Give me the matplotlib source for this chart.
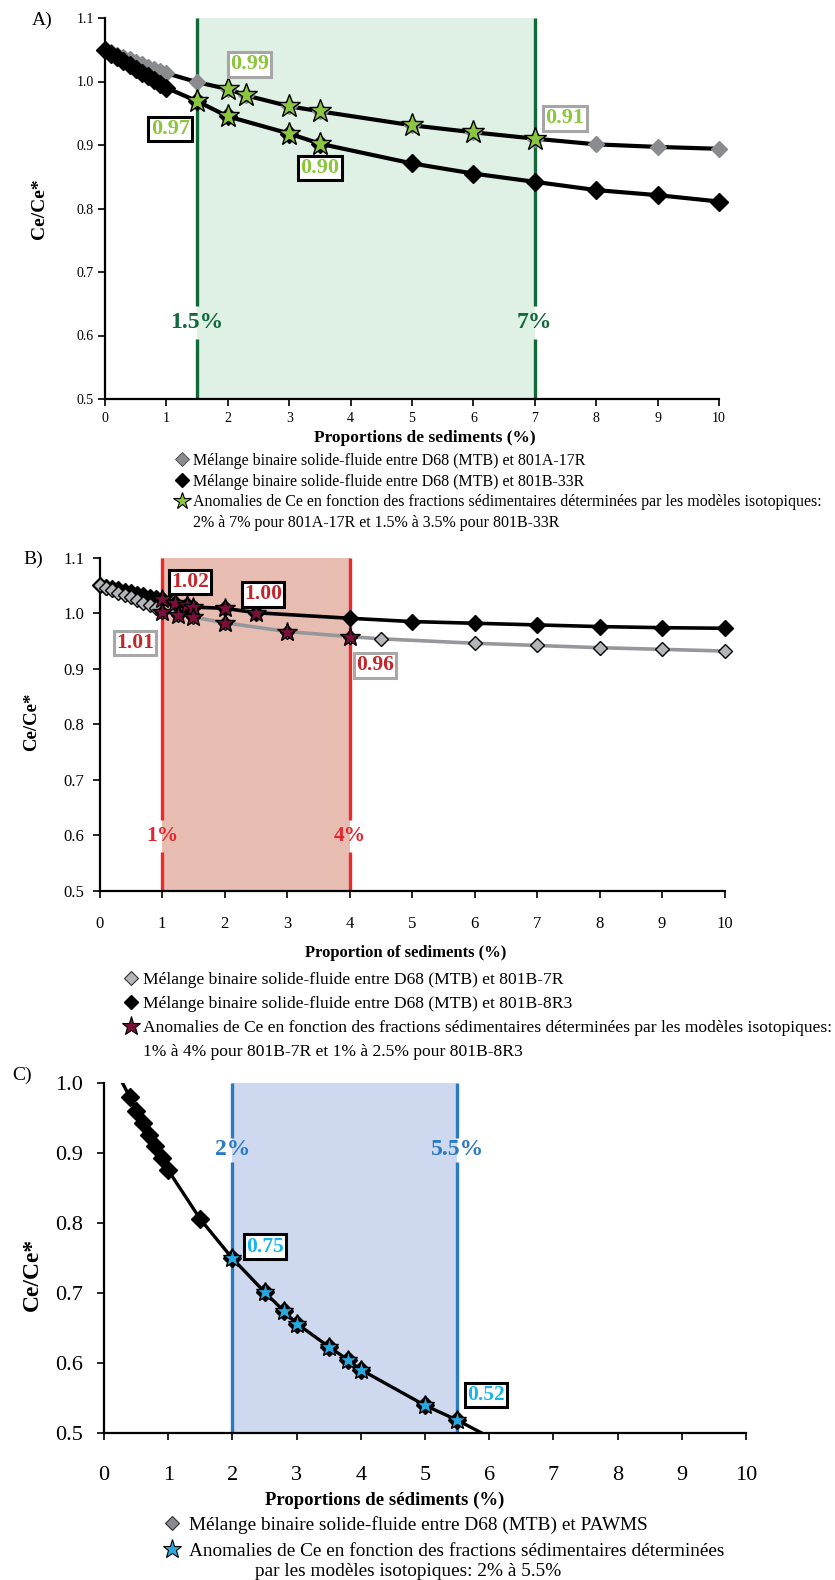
import matplotlib
matplotlib.use("Agg")
import matplotlib.pyplot as plt
from matplotlib.lines import Line2D

plt.rcParams['font.family'] = ['Liberation Serif', 'DejaVu Serif']

# -----------------------------
# DATA
# -----------------------------
# A) mixing D68 (MTB) with 801A-17R (gray) and 801B-33R (black)
a_x_gray = [0.0, 0.1, 0.2, 0.3, 0.4, 0.5, 0.6, 0.7, 0.8, 0.9, 1.0, 1.5, 2.0, 2.3,
            3.0, 3.5, 5.0, 6.0, 7.0, 8.0, 9.0, 10.0]
a_y_gray = [1.050, 1.046, 1.042, 1.038, 1.035, 1.031, 1.027, 1.023, 1.019, 1.016,
            1.013, 0.999, 0.988, 0.978, 0.961, 0.953, 0.931, 0.920, 0.910, 0.901,
            0.897, 0.894]
a_x_black = [0.0, 0.1, 0.2, 0.3, 0.4, 0.5, 0.6, 0.7, 0.8, 0.9, 1.0, 1.5, 2.0, 3.0,
             3.5, 5.0, 6.0, 7.0, 8.0, 9.0, 10.0]
a_y_black = [1.050, 1.044, 1.038, 1.032, 1.026, 1.020, 1.014, 1.008, 1.002, 0.996,
             0.990, 0.969, 0.945, 0.918, 0.902, 0.871, 0.855, 0.842, 0.829, 0.821,
             0.811]
a_x_star = [2.0, 2.3, 3.0, 3.5, 5.0, 6.0, 7.0, 1.5, 2.0, 3.0, 3.5]
a_y_star = [0.988, 0.978, 0.961, 0.953, 0.931, 0.920, 0.910, 0.969, 0.945, 0.918, 0.902]
a_zone = [1.5, 7.0]
a_zone_labels = ["1.5%", "7%"]
a_values = ["0.99", "0.97", "0.90", "0.91"]

# B) mixing D68 (MTB) with 801B-7R (gray) and 801B-8R3 (black)
b_x_gray = [0.0, 0.1, 0.2, 0.3, 0.4, 0.5, 0.6, 0.7, 0.8, 0.9, 1.0, 1.25, 1.5, 2.0,
            3.0, 4.0, 4.5, 6.0, 7.0, 8.0, 9.0, 10.0]
b_y_gray = [1.050, 1.046, 1.042, 1.037, 1.033, 1.029, 1.024, 1.019, 1.014, 1.009,
            1.003, 0.997, 0.993, 0.983, 0.967, 0.958, 0.954, 0.946, 0.942, 0.938,
            0.935, 0.932]
b_x_black = [0.0, 0.1, 0.2, 0.3, 0.4, 0.5, 0.6, 0.7, 0.8, 0.9, 1.0, 1.2, 1.4, 1.5,
             2.0, 2.5, 4.0, 5.0, 6.0, 7.0, 8.0, 9.0, 10.0]
b_y_black = [1.050, 1.048, 1.045, 1.043, 1.040, 1.038, 1.035, 1.032, 1.030, 1.027,
             1.025, 1.018, 1.015, 1.011, 1.009, 1.001, 0.991, 0.985, 0.982, 0.979,
             0.976, 0.974, 0.973]
b_x_star = [1.0, 1.2, 1.4, 1.5, 2.0, 2.5, 1.0, 1.25, 1.5, 2.0, 3.0, 4.0]
b_y_star = [1.025, 1.018, 1.015, 1.011, 1.009, 1.001, 1.003, 0.997, 0.993, 0.983,
            0.967, 0.958]
b_zone = [1.0, 4.0]
b_zone_labels = ["1%", "4%"]
b_values = ["1.02", "1.00", "1.01", "0.96"]

# C) mixing D68 (MTB) with PAWMS
c_x = [0.2, 0.4, 0.5, 0.6, 0.7, 0.8, 0.9, 1.0, 1.5, 2.0, 2.5, 2.8, 3.0, 3.5, 3.8,
       4.0, 5.0, 5.5, 6.0]
c_y = [1.015, 0.980, 0.960, 0.943, 0.926, 0.909, 0.892, 0.875, 0.805, 0.749, 0.701,
       0.674, 0.656, 0.623, 0.604, 0.590, 0.539, 0.518, 0.494]
c_x_star = [2.0, 2.5, 2.8, 3.0, 3.5, 3.8, 4.0, 5.0, 5.5]
c_y_star = [0.749, 0.701, 0.674, 0.656, 0.623, 0.604, 0.590, 0.539, 0.518]
c_zone = [2.0, 5.5]
c_zone_labels = ["2%", "5.5%"]
c_values = ["0.75", "0.52"]

W, H = 835, 1580


# -----------------------------
# HELPERS
# -----------------------------
def style_axes(ax, yticks, labelsize, xpad, ypad):
    ax.set_xlim(0, 10)
    ax.set_ylim(yticks[0], yticks[-1])
    for s in ['top', 'right']:
        ax.spines[s].set_visible(False)
    for s in ['left', 'bottom']:
        ax.spines[s].set_linewidth(1.6)
    ax.set_xticks(range(11))
    ax.set_yticks(yticks)
    ax.set_yticklabels([f"{t:.1f}" for t in yticks])
    ax.tick_params(direction='out', length=5, width=1.2, labelsize=labelsize)
    ax.tick_params(axis='x', pad=xpad)
    ax.tick_params(axis='y', pad=ypad)


def zone(ax, xs, labels, fill, line, color, label_y, gap, size, ymin, ymax):
    ax.axvspan(xs[0], xs[1], color=fill, zorder=0, lw=0)
    for x, lab in zip(xs, labels):
        ax.vlines(x, ymin, label_y - gap, color=line, lw=2.4, zorder=1)
        ax.vlines(x, label_y + gap, ymax, color=line, lw=2.4, zorder=1)
        ax.text(x, label_y, lab, color=color, fontsize=size, fontweight='bold',
                ha='center', va='center', zorder=2)


def boxed(ax, x, y, text, color, edge, size):
    ax.text(x, y, text, color=color, fontsize=size, fontweight='bold',
            ha='center', va='center', zorder=8,
            bbox=dict(boxstyle='square,pad=0.1', facecolor='white',
                      edgecolor=edge, linewidth=2.2))


def legend(fig, handles, labels, x0, ytop, size, spacing, pad):
    fig.legend(handles, labels, loc='upper left',
               bbox_to_anchor=(x0 / W, 1 - ytop / H), frameon=False,
               fontsize=size, handlelength=1.0, handletextpad=pad,
               labelspacing=spacing, borderpad=0, borderaxespad=0, numpoints=1)


fig = plt.figure(figsize=(8.35, 15.8), dpi=100)

# -----------------------------
# PANEL A
# -----------------------------
axA = fig.add_axes([105 / W, 1 - 399 / H, 614 / W, 381 / H])
green = '#8cc63f'
zone(axA, a_zone, a_zone_labels, '#dff0e4', '#11693a', '#11693a', 0.621, 0.026,
     17, 0.5, 1.1)
axA.plot(a_x_gray, a_y_gray, color='black', lw=3, marker='D', ms=8.5,
         mfc='#8a8b8f', mec='#8a8b8f', zorder=3, clip_on=False)
axA.plot(a_x_black, a_y_black, color='black', lw=3, marker='D', ms=9,
         mfc='black', mec='black', zorder=3, clip_on=False)
axA.plot(a_x_star, a_y_star, ls='none', marker='*', ms=17, mfc=green,
         mec='black', mew=1.0, zorder=5, clip_on=False)
a_pos = [(2.35, 1.027, '#a6a6a6'), (1.06, 0.925, 'black'),
         (3.5, 0.864, 'black'), (7.49, 0.942, '#a6a6a6')]
for (x, y, edge), v in zip(a_pos, a_values):
    boxed(axA, x, y, v, green, edge, 16)
style_axes(axA, [0.5, 0.6, 0.7, 0.8, 0.9, 1.0, 1.1], 10, 4, 3)
axA.set_xlabel("Proportions de sediments (%)", fontsize=12.5, fontweight='bold')
axA.xaxis.set_label_coords(0.521, -0.082)
axA.set_ylabel("Ce/Ce*", fontsize=14, fontweight='bold')
axA.yaxis.set_label_coords(-0.093, 0.5)
fig.text(42 / W, 1 - 20 / H, "A)", fontsize=14, ha='center', va='center')

legend(fig,
       [Line2D([], [], ls='none', marker='D', ms=7.5, mfc='#8a8b8f', mec='#444444', mew=0.6),
        Line2D([], [], ls='none', marker='D', ms=7.5, mfc='black', mec='black'),
        Line2D([], [], ls='none', marker='*', ms=13, mfc=green, mec='black', mew=0.8),
        Line2D([], [], ls='none')],
       ["Mélange binaire solide-fluide entre D68 (MTB) et 801A-17R",
        "Mélange binaire solide-fluide entre D68 (MTB) et 801B-33R",
        "Anomalies de Ce en fonction des fractions sédimentaires déterminées par les modèles isotopiques:",
        "2% à 7% pour 801A-17R et 1.5% à 3.5% pour 801B-33R"],
       174, 453, 11.5, 0.29, 0.19)

# -----------------------------
# PANEL B
# -----------------------------
axB = fig.add_axes([99.5 / W, 1 - 891 / H, 625 / W, 333.3 / H])
red = '#c1272d'
zone(axB, b_zone, b_zone_labels, '#e8bdb1', '#ec2a2c', '#e0282e', 0.599, 0.028,
     15.5, 0.5, 1.1)
axB.plot(b_x_black, b_y_black, color='black', lw=2.6, marker='D', ms=7.8,
         mfc='black', mec='black', zorder=3, clip_on=False)
axB.plot(b_x_gray, b_y_gray, color='#96979b', lw=2.6, marker='D', ms=7.6,
         mfc='#b4b5b9', mec='black', mew=1.0, zorder=4, clip_on=False)
axB.plot(b_x_star, b_y_star, ls='none', marker='*', ms=15, mfc='#7a0f3a',
         mec='black', mew=1.0, zorder=5, clip_on=False)
b_pos = [(1.45, 1.056, 'black'), (2.62, 1.034, 'black'),
         (0.57, 0.947, '#a8a8a8'), (4.41, 0.906, '#a8a8a8')]
for (x, y, edge), v in zip(b_pos, b_values):
    boxed(axB, x, y, v, red, edge, 15.5)
style_axes(axB, [0.5, 0.6, 0.7, 0.8, 0.9, 1.0, 1.1], 12, 13, 6)
axB.set_xlabel("Proportion of sediments (%)", fontsize=12, fontweight='bold')
axB.xaxis.set_label_coords(0.49, -0.162)
axB.set_ylabel("Ce/Ce*", fontsize=13.5, fontweight='bold')
axB.yaxis.set_label_coords(-0.095, 0.507)
fig.text(33 / W, 1 - 559 / H, "B)", fontsize=14, ha='center', va='center')

legend(fig,
       [Line2D([], [], ls='none', marker='D', ms=7.5, mfc='#b4b5b9', mec='#333333', mew=0.8),
        Line2D([], [], ls='none', marker='D', ms=7.5, mfc='black', mec='black'),
        Line2D([], [], ls='none', marker='*', ms=14, mfc='#7a0f3a', mec='black', mew=0.8),
        Line2D([], [], ls='none')],
       ["Mélange binaire solide-fluide entre D68 (MTB) et 801B-7R",
        "Mélange binaire solide-fluide entre D68 (MTB) et 801B-8R3",
        "Anomalies de Ce en fonction des fractions sédimentaires déterminées par les modèles isotopiques:",
        "1% à 4% pour 801B-7R et 1% à 2.5% pour 801B-8R3"],
       122, 971.5, 12.6, 0.45, 0.19)

# -----------------------------
# PANEL C
# -----------------------------
axC = fig.add_axes([104 / W, 1 - 1432.7 / H, 642 / W, 350 / H])
blue = '#1ab3ea'
zone(axC, c_zone, c_zone_labels, '#ced8ef', '#2b7bc2', '#2b7bc2', 0.904, 0.017,
     17, 0.5, 1.0)
axC.plot(c_x, c_y, color='black', lw=2.4, marker='D', ms=9, mfc='black',
         mec='black', markevery=slice(1, -1), zorder=3)
axC.plot(c_x_star, c_y_star, ls='none', marker='*', ms=14, mfc='#29a8e0',
         mec='black', mew=1.0, zorder=5)
c_pos = [(2.51, 0.766, 'black'), (5.95, 0.554, 'black')]
for (x, y, edge), v in zip(c_pos, c_values):
    boxed(axC, x, y, v, blue, edge, 15.5)
style_axes(axC, [0.5, 0.6, 0.7, 0.8, 0.9, 1.0], 16, 19, 10)
axC.set_xlabel("Proportions de sédiments (%)", fontsize=13.5, fontweight='bold')
axC.xaxis.set_label_coords(0.437, -0.168)
axC.set_ylabel("Ce/Ce*", fontsize=17, fontweight='bold')
axC.yaxis.set_label_coords(-0.095, 0.453)
fig.text(22 / W, 1 - 1075 / H, "C)", fontsize=14, ha='center', va='center')

legend(fig,
       [Line2D([], [], ls='none', marker='D', ms=7.5, mfc='#8a8b8f', mec='#333333', mew=0.8),
        Line2D([], [], ls='none', marker='*', ms=14, mfc='#29a8e0', mec='black', mew=0.8)],
       ["Mélange binaire solide-fluide entre D68 (MTB) et PAWMS",
        "Anomalies de Ce en fonction des fractions sédimentaires déterminées"],
       162, 1516, 13.9, 0.45, 0.38)
fig.text(408 / W, 1 - 1572 / H, "par les modèles isotopiques: 2% à 5.5%",
         fontsize=13.9, ha='center', va='center')

fig.savefig("out.png", dpi=100)
